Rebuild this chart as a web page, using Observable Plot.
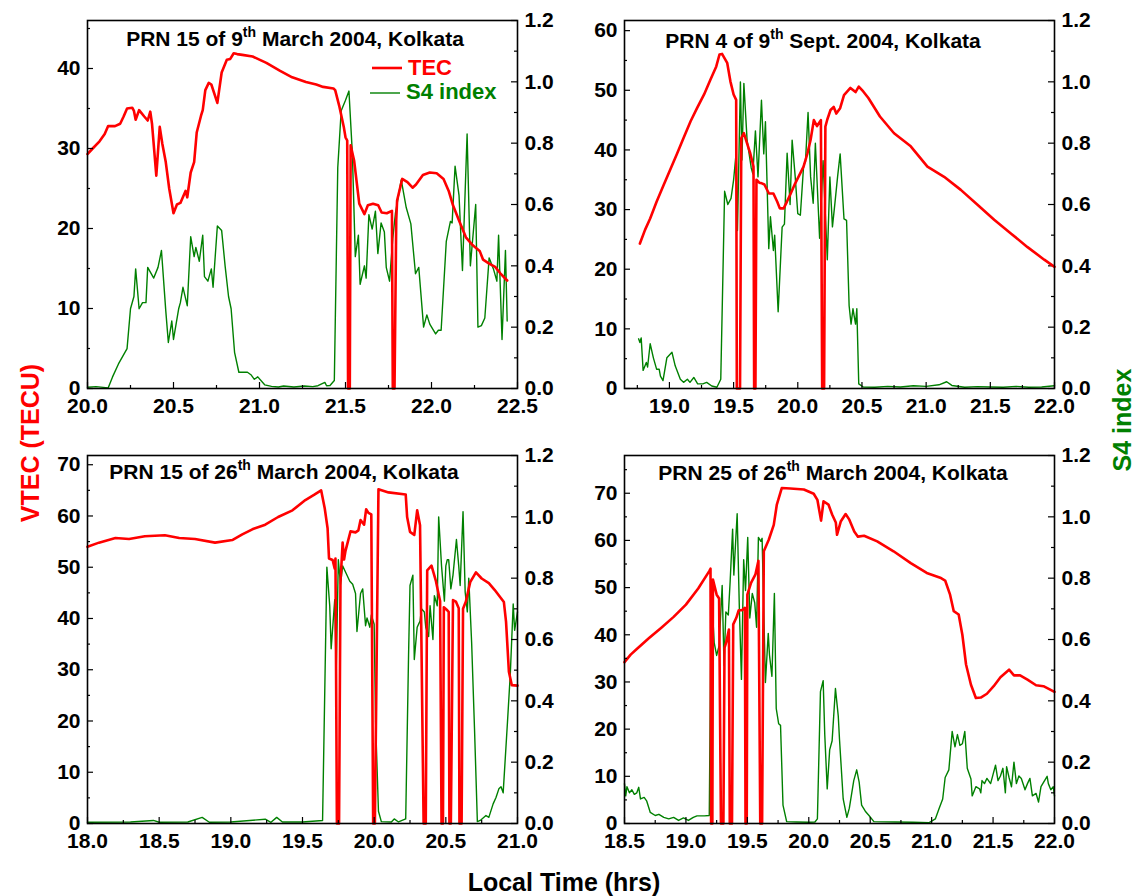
<!DOCTYPE html>
<html><head><meta charset="utf-8">
<script src="https://cdn.jsdelivr.net/npm/d3@7"></script>
<script src="https://cdn.jsdelivr.net/npm/@observablehq/plot@0.6"></script>
<style>
body{margin:0;background:#fff;}
#chart{position:relative;width:1138px;height:896px;overflow:hidden;}
#chart svg{position:absolute;left:0;top:0;background:transparent !important;max-width:none !important;}
</style></head><body><div id="chart"></div>
<script>
// ---------- data: [local time (hrs), value] ----------
const p1Tec = [[20.00,29.3],[20.03,30.0],[20.07,30.9],[20.10,31.8],[20.12,32.8],[20.16,32.8],[20.19,33.1],[20.21,34.0],[20.23,35.0],[20.26,35.1],[20.27,34.7],[20.28,33.6],[20.30,34.8],[20.33,34.0],[20.35,33.5],[20.365,34.6],[20.375,33.1],[20.40,26.6],[20.42,32.7],[20.435,30.6],[20.455,28.3],[20.475,25.0],[20.50,21.9],[20.52,23.0],[20.54,23.2],[20.57,24.7],[20.58,23.9],[20.60,27.0],[20.62,28.3],[20.635,32.0],[20.66,34.1],[20.67,34.8],[20.685,37.3],[20.705,38.2],[20.72,38.0],[20.755,35.7],[20.78,39.5],[20.81,41.1],[20.83,41.2],[20.85,41.9],[20.87,41.8],[20.90,41.7],[20.96,41.5],[21.04,40.7],[21.12,39.7],[21.19,38.9],[21.27,38.3],[21.33,38.0],[21.37,37.7],[21.43,37.5],[21.44,37.3],[21.465,35.2],[21.49,32.7],[21.50,31.4],[21.51,31.0],[21.515,0],[21.525,0],[21.53,30.4],[21.55,28.5],[21.58,23.1],[21.61,21.8],[21.63,22.9],[21.66,23.1],[21.69,22.9],[21.71,22.0],[21.74,21.9],[21.77,22.2],[21.775,0],[21.785,0],[21.795,21.0],[21.80,23.5],[21.83,26.2],[21.86,25.8],[21.89,25.1],[21.91,25.5],[21.95,26.7],[21.99,27.0],[22.03,26.9],[22.07,26.2],[22.10,24.7],[22.125,22.9],[22.16,21.0],[22.20,18.9],[22.24,17.9],[22.28,17.2],[22.30,16.1],[22.335,15.6],[22.37,15.2],[22.40,14.4],[22.44,13.5]];
const p1S4 = [[20.00,0.004],[20.05,0.006],[20.12,0.002],[20.145,0.037],[20.18,0.08],[20.23,0.13],[20.25,0.26],[20.27,0.30],[20.28,0.39],[20.30,0.26],[20.32,0.28],[20.34,0.28],[20.35,0.395],[20.385,0.36],[20.41,0.395],[20.43,0.45],[20.455,0.254],[20.47,0.15],[20.49,0.22],[20.50,0.16],[20.53,0.26],[20.54,0.28],[20.555,0.33],[20.58,0.27],[20.60,0.495],[20.62,0.43],[20.63,0.46],[20.65,0.415],[20.67,0.50],[20.68,0.365],[20.70,0.35],[20.72,0.39],[20.73,0.33],[20.755,0.53],[20.78,0.515],[20.80,0.40],[20.82,0.30],[20.835,0.26],[20.855,0.118],[20.88,0.053],[20.93,0.053],[20.95,0.045],[20.97,0.03],[20.99,0.038],[21.03,0.012],[21.07,0.007],[21.11,0.005],[21.14,0.008],[21.20,0.005],[21.26,0.008],[21.31,0.006],[21.34,0.009],[21.38,0.02],[21.39,0.009],[21.41,0.01],[21.435,0.026],[21.455,0.72],[21.475,0.906],[21.50,0.94],[21.52,0.97],[21.54,0.765],[21.557,0.43],[21.575,0.50],[21.585,0.34],[21.61,0.40],[21.62,0.36],[21.636,0.567],[21.655,0.52],[21.674,0.578],[21.688,0.44],[21.707,0.54],[21.726,0.51],[21.737,0.395],[21.756,0.35],[21.775,0.49],[21.79,0.57],[21.824,0.68],[21.853,0.59],[21.88,0.537],[21.907,0.374],[21.926,0.395],[21.954,0.20],[21.973,0.24],[21.99,0.21],[22.024,0.178],[22.04,0.19],[22.056,0.19],[22.086,0.48],[22.11,0.545],[22.12,0.54],[22.137,0.725],[22.16,0.63],[22.18,0.385],[22.207,0.83],[22.226,0.40],[22.257,0.60],[22.27,0.20],[22.29,0.205],[22.31,0.23],[22.335,0.426],[22.36,0.39],[22.38,0.35],[22.39,0.50],[22.41,0.16],[22.43,0.45],[22.44,0.22]];
const p2Tec = [[18.77,24.3],[18.81,26.6],[18.85,28.5],[18.90,31.3],[18.955,34.1],[19.01,36.9],[19.06,39.4],[19.11,42.0],[19.165,44.8],[19.215,47.0],[19.27,49.3],[19.32,51.8],[19.365,54.0],[19.39,56.0],[19.41,56.1],[19.45,54.6],[19.475,51.5],[19.50,49.3],[19.52,48.4],[19.525,0],[19.55,0],[19.56,42.0],[19.58,42.8],[19.605,41.1],[19.63,39.4],[19.655,37.2],[19.66,0],[19.67,0],[19.678,35.0],[19.70,34.5],[19.72,34.4],[19.74,34.2],[19.775,32.7],[19.81,32.7],[19.84,31.3],[19.86,30.2],[19.89,30.2],[19.915,31.3],[19.945,32.7],[19.98,34.4],[20.02,36.1],[20.045,37.2],[20.075,39.4],[20.10,41.7],[20.125,45.0],[20.15,44.0],[20.18,45.0],[20.19,0],[20.205,0],[20.215,43.9],[20.23,45.1],[20.255,46.7],[20.28,47.2],[20.30,46.1],[20.33,47.0],[20.36,49.2],[20.41,50.4],[20.45,49.7],[20.475,50.6],[20.51,49.8],[20.55,48.7],[20.64,45.6],[20.75,42.8],[20.88,40.6],[21.01,37.2],[21.14,35.5],[21.27,33.3],[21.40,30.8],[21.53,28.3],[21.66,26.0],[21.79,23.7],[21.92,21.6],[22.0,20.4]];
const p2S4 = [[18.76,0.162],[18.77,0.15],[18.78,0.165],[18.795,0.059],[18.82,0.085],[18.83,0.07],[18.85,0.146],[18.875,0.10],[18.90,0.063],[18.92,0.063],[18.93,0.04],[18.95,0.026],[18.98,0.10],[19.02,0.118],[19.045,0.074],[19.085,0.03],[19.11,0.02],[19.14,0.03],[19.16,0.02],[19.19,0.036],[19.22,0.015],[19.26,0.015],[19.29,0.02],[19.33,0.008],[19.37,0.004],[19.40,0.03],[19.43,0.643],[19.455,0.60],[19.48,0.62],[19.50,0.68],[19.52,0.77],[19.53,0.515],[19.553,1.0],[19.565,0.745],[19.58,0.995],[19.605,0.81],[19.637,0.72],[19.65,0.70],[19.67,0.84],[19.69,0.69],[19.717,0.94],[19.735,0.765],[19.748,0.87],[19.774,0.456],[19.787,0.56],[19.81,0.45],[19.82,0.50],[19.847,0.25],[19.878,0.526],[19.896,0.536],[19.917,0.767],[19.94,0.60],[19.956,0.81],[19.98,0.69],[20.0,0.57],[20.02,0.565],[20.046,0.73],[20.06,0.74],[20.08,0.90],[20.10,0.69],[20.12,0.604],[20.137,0.80],[20.17,0.49],[20.197,0.743],[20.23,0.42],[20.25,0.69],[20.27,0.527],[20.29,0.607],[20.31,0.69],[20.33,0.765],[20.36,0.553],[20.38,0.548],[20.40,0.27],[20.415,0.21],[20.43,0.26],[20.45,0.21],[20.46,0.26],[20.475,0.015],[20.51,0.005],[20.6,0.004],[20.7,0.007],[20.8,0.005],[20.9,0.009],[21.0,0.007],[21.1,0.012],[21.16,0.022],[21.2,0.01],[21.3,0.004],[21.4,0.006],[21.5,0.005],[21.6,0.004],[21.7,0.007],[21.8,0.004],[21.9,0.005],[22.0,0.009]];
const p3Tec = [[18.00,54.0],[18.08,54.8],[18.195,55.7],[18.29,55.5],[18.40,56.05],[18.54,56.25],[18.64,55.7],[18.75,55.5],[18.89,54.8],[19.01,55.3],[19.08,56.4],[19.15,57.4],[19.24,58.3],[19.33,59.8],[19.43,61.1],[19.52,63.1],[19.58,64.1],[19.63,65.0],[19.655,61.5],[19.675,57.6],[19.685,51.7],[19.71,51.4],[19.725,49.7],[19.73,51.7],[19.74,0],[19.755,0],[19.765,47.1],[19.78,54.8],[19.79,51.5],[19.80,53.2],[19.835,57.0],[19.87,56.8],[19.89,57.2],[19.905,59.2],[19.93,58.3],[19.944,61.3],[19.96,60.6],[19.98,60.3],[19.993,0],[20.005,0],[20.03,65.2],[20.10,64.6],[20.22,64.2],[20.23,59.8],[20.25,56.9],[20.28,56.3],[20.30,61.1],[20.32,58.2],[20.345,0],[20.36,0],[20.37,49.4],[20.40,50.3],[20.43,47.4],[20.45,44.7],[20.46,43.4],[20.47,0],[20.48,0],[20.486,42.2],[20.51,41.6],[20.52,41.3],[20.525,0],[20.535,0],[20.55,43.6],[20.57,43.3],[20.59,42.0],[20.595,0],[20.61,0],[20.62,41.9],[20.64,43.3],[20.67,47.1],[20.71,49.0],[20.75,47.8],[20.80,46.9],[20.84,45.6],[20.905,43.2],[20.92,39.4],[20.94,29.6],[20.96,27.0],[21.0,26.9]];
const p3S4 = [[18.0,0.004],[18.3,0.005],[18.46,0.01],[18.5,0.004],[18.7,0.005],[18.8,0.02],[18.85,0.004],[19.0,0.005],[19.24,0.014],[19.28,0.004],[19.32,0.02],[19.36,0.005],[19.5,0.005],[19.64,0.01],[19.67,0.836],[19.69,0.71],[19.70,0.57],[19.725,0.73],[19.735,0.49],[19.75,0.86],[19.765,0.78],[19.78,0.84],[19.80,0.82],[19.83,0.79],[19.85,0.78],[19.87,0.75],[19.88,0.626],[19.905,0.75],[19.92,0.765],[19.94,0.645],[19.95,0.67],[19.97,0.64],[19.98,0.68],[20.0,0.65],[20.01,0.33],[20.03,0.04],[20.05,0.006],[20.12,0.005],[20.14,0.015],[20.17,0.005],[20.22,0.015],[20.24,0.55],[20.25,0.776],[20.27,0.81],[20.28,0.535],[20.30,0.64],[20.32,0.66],[20.33,0.70],[20.35,0.69],[20.36,0.64],[20.38,0.61],[20.39,0.71],[20.41,0.60],[20.42,0.743],[20.44,0.71],[20.45,1.0],[20.47,0.84],[20.49,0.725],[20.50,0.84],[20.51,0.86],[20.52,0.86],[20.535,0.765],[20.55,0.81],[20.574,0.926],[20.59,0.84],[20.60,0.776],[20.62,1.017],[20.635,0.754],[20.65,0.69],[20.66,0.80],[20.68,0.59],[20.70,0.31],[20.72,0.006],[20.74,0.01],[20.78,0.026],[20.80,0.02],[20.83,0.064],[20.85,0.085],[20.87,0.113],[20.885,0.12],[20.90,0.10],[20.93,0.33],[20.95,0.49],[20.97,0.716],[20.98,0.63],[21.0,0.69]];
const p4Tec = [[18.50,34.2],[18.55,35.8],[18.60,37.0],[18.70,39.3],[18.80,41.5],[18.90,43.8],[19.00,46.4],[19.10,49.8],[19.19,53.5],[19.20,54.0],[19.205,0],[19.215,0],[19.22,51.7],[19.25,48.5],[19.27,47.7],[19.285,0],[19.305,0],[19.314,37.2],[19.33,38.6],[19.35,41.1],[19.357,0],[19.375,0],[19.385,42.2],[19.41,43.6],[19.43,45.2],[19.455,45.2],[19.48,45.7],[19.485,0],[19.495,0],[19.50,48.5],[19.53,51.0],[19.566,52.8],[19.59,55.7],[19.605,0],[19.62,0],[19.634,57.7],[19.675,60.2],[19.715,63.3],[19.74,67.6],[19.78,71.1],[19.85,71.0],[19.96,70.8],[20.04,69.9],[20.07,68.6],[20.10,64.2],[20.12,68.3],[20.16,67.6],[20.19,65.5],[20.22,63.8],[20.23,61.2],[20.26,64.0],[20.30,65.6],[20.33,64.4],[20.37,61.9],[20.40,60.8],[20.45,61.0],[20.557,59.8],[20.69,57.7],[20.83,55.2],[20.96,53.1],[21.07,52.1],[21.11,51.5],[21.15,48.5],[21.18,45.0],[21.22,44.3],[21.25,40.0],[21.28,33.7],[21.32,29.4],[21.36,26.6],[21.40,26.7],[21.45,27.5],[21.505,29.1],[21.56,31.0],[21.63,32.6],[21.67,31.4],[21.72,31.4],[21.78,30.5],[21.85,29.3],[21.91,29.1],[22.0,27.9]];
const p4S4 = [[18.50,0.13],[18.51,0.09],[18.52,0.12],[18.54,0.10],[18.56,0.11],[18.58,0.095],[18.60,0.10],[18.616,0.118],[18.63,0.08],[18.66,0.085],[18.68,0.074],[18.71,0.036],[18.75,0.026],[18.78,0.03],[18.82,0.02],[18.86,0.015],[18.90,0.02],[18.94,0.01],[18.98,0.018],[19.02,0.01],[19.06,0.02],[19.09,0.025],[19.15,0.025],[19.19,0.026],[19.206,0.77],[19.23,0.59],[19.25,0.548],[19.27,0.58],[19.295,0.776],[19.31,0.515],[19.325,0.69],[19.345,0.68],[19.36,0.79],[19.38,0.96],[19.39,0.81],[19.417,1.01],[19.435,0.70],[19.452,0.47],[19.47,0.86],[19.485,0.76],[19.503,0.933],[19.52,0.67],[19.54,0.75],[19.56,0.72],[19.575,0.64],[19.59,0.933],[19.61,0.92],[19.62,0.93],[19.647,0.46],[19.67,0.62],[19.68,0.55],[19.70,0.48],[19.72,0.75],[19.735,0.375],[19.755,0.325],[19.77,0.32],[19.79,0.06],[19.82,0.006],[19.9,0.005],[20.0,0.004],[20.05,0.005],[20.07,0.015],[20.095,0.43],[20.117,0.466],[20.13,0.29],[20.15,0.113],[20.17,0.24],[20.19,0.27],[20.217,0.44],[20.24,0.35],[20.25,0.275],[20.28,0.08],[20.31,0.02],[20.33,0.05],[20.366,0.14],[20.39,0.175],[20.41,0.135],[20.43,0.06],[20.46,0.04],[20.49,0.026],[20.53,0.006],[20.7,0.005],[20.85,0.004],[20.98,0.003],[21.03,0.015],[21.06,0.048],[21.09,0.08],[21.11,0.15],[21.14,0.175],[21.167,0.30],[21.19,0.25],[21.21,0.29],[21.23,0.255],[21.25,0.26],[21.27,0.30],[21.29,0.18],[21.32,0.145],[21.33,0.09],[21.36,0.12],[21.39,0.113],[21.40,0.10],[21.41,0.14],[21.43,0.13],[21.45,0.147],[21.48,0.13],[21.50,0.16],[21.52,0.19],[21.54,0.14],[21.56,0.155],[21.58,0.18],[21.60,0.10],[21.61,0.185],[21.63,0.15],[21.65,0.12],[21.67,0.20],[21.69,0.13],[21.71,0.155],[21.73,0.147],[21.76,0.11],[21.78,0.13],[21.80,0.147],[21.82,0.09],[21.85,0.098],[21.87,0.07],[21.89,0.12],[21.94,0.154],[21.95,0.13],[21.97,0.11],[21.99,0.12],[22.0,0.09]];

// ---------- ticks ----------
const p1XTicks = [20.0,20.5,21.0,21.5,22.0,22.5];
const p1XMinor = [20.25,20.75,21.25,21.75,22.25];
const p2XTicks = [19.0,19.5,20.0,20.5,21.0,21.5,22.0];
const p2XMinor = [18.75,19.25,19.75,20.25,20.75,21.25,21.75];
const p3XTicks = [18.0,18.5,19.0,19.5,20.0,20.5,21.0];
const p3XMinor = [18.25,18.75,19.25,19.75,20.25,20.75];
const p4XTicks = [18.5,19.0,19.5,20.0,20.5,21.0,21.5,22.0];
const p4XMinor = [18.75,19.25,19.75,20.25,20.75,21.25,21.75];
const p1YTicks = [0,10,20,30,40], p1YMinor = [5,15,25,35,45];
const p2YTicks = [0,10,20,30,40,50,60], p2YMinor = [5,15,25,35,45,55];
const p3YTicks = [0,10,20,30,40,50,60,70], p3YMinor = [5,15,25,35,45,55,65];
const p4YTicks = [0,10,20,30,40,50,60,70], p4YMinor = [5,15,25,35,45,55,65,75];
const s4Ticks = [0,0.2,0.4,0.6,0.8,1.0,1.2];
const s4Minor = [0.1,0.3,0.5,0.7,0.9,1.1];

const titles = [
  ["PRN 15 of 9","th"," March 2004, Kolkata"],
  ["PRN 4 of 9","th"," Sept. 2004, Kolkata"],
  ["PRN 15 of 26","th"," March 2004, Kolkata"],
  ["PRN 25 of 26","th"," March 2004, Kolkata"]
];
const legendLabels = ["TEC","S4 index"];
const axisTitles = {x:"Local Time (hrs)", yLeft:"VTEC (TECU)", yRight:"S4 index"};

// ---------- layout ----------
const W = 1138, H = 896, PW = 430, PH = 368;
const RED = "#ff0000", GREEN = "#008000";
const FONT = "'Liberation Sans', Arial, Helvetica, sans-serif";
const panels = [
  {left:87,  top:20,  x:[20,22.5],    yMax:46,   tec:p1Tec, s4:p1S4, xt:p1XTicks, xm:p1XMinor, yt:p1YTicks, ym:p1YMinor, tx:295, ty:46},
  {left:624, top:20,  x:[18.65,22.0], yMax:61.7, tec:p2Tec, s4:p2S4, xt:p2XTicks, xm:p2XMinor, yt:p2YTicks, ym:p2YMinor, tx:823, ty:48},
  {left:87,  top:455, x:[18,21],      yMax:71.8, tec:p3Tec, s4:p3S4, xt:p3XTicks, xm:p3XMinor, yt:p3YTicks, ym:p3YMinor, tx:284, ty:479},
  {left:624, top:455, x:[18.5,22.0],  yMax:78,   tec:p4Tec, s4:p4S4, xt:p4XTicks, xm:p4XMinor, yt:p4YTicks, ym:p4YMinor, tx:833, ty:480}
];

const chart = document.getElementById("chart");
const baseStyle = {fontFamily: FONT, fontSize: "21px", fontWeight: "bold", color: "black", background: "transparent", overflow: "visible"};

function geom(p) {
  return {width: W, height: H, marginLeft: p.left, marginRight: W - p.left - PW, marginTop: p.top, marginBottom: H - p.top - PH};
}

for (const p of panels) {
  const s4Plot = Plot.plot({
    ...geom(p), style: baseStyle,
    x: {domain: p.x, axis: null},
    y: {domain: [0, 1.2], axis: null},
    marks: [
      Plot.line(p.s4, {x: d => d[0], y: d => d[1], stroke: GREEN, strokeWidth: 1.4}),
      Plot.axisY(s4Ticks, {anchor: "right", tickSize: 0, tickPadding: 7, tickFormat: d => d.toFixed(1)}),
      Plot.tickY(s4Ticks, {y: d => d, insetLeft: PW - 6, strokeWidth: 1.2}),
      Plot.tickY(s4Minor, {y: d => d, insetLeft: PW - 3, strokeWidth: 1.2})
    ]
  });
  const tecPlot = Plot.plot({
    ...geom(p), style: baseStyle,
    x: {domain: p.x, axis: null},
    y: {domain: [0, p.yMax], axis: null},
    marks: [
      Plot.line(p.tec, {x: d => d[0], y: d => d[1], stroke: RED, strokeWidth: 2.6}),
      Plot.frame({stroke: "black", strokeWidth: 1.6}),
      Plot.axisY(p.yt, {anchor: "left", tickSize: 0, tickPadding: 7}),
      Plot.tickY(p.yt, {y: d => d, insetRight: PW - 6, strokeWidth: 1.2}),
      Plot.tickY(p.ym, {y: d => d, insetRight: PW - 3, strokeWidth: 1.2}),
      Plot.axisX(p.xt, {anchor: "bottom", tickSize: 0, tickPadding: 10, tickFormat: d => d.toFixed(1)}),
      Plot.tickX(p.xt, {x: d => d, insetTop: PH - 6, strokeWidth: 1.2}),
      Plot.tickX(p.xm, {x: d => d, insetTop: PH - 3, strokeWidth: 1.2})
    ]
  });
  chart.appendChild(s4Plot);
  chart.appendChild(tecPlot);
}

// ---------- overlay text: titles, legend, axis titles ----------
const svg = d3.select(chart).append("svg")
  .attr("width", W).attr("height", H)
  .style("font-family", FONT).style("font-weight", "bold");

panels.forEach((p, i) => {
  const t = svg.append("text").attr("x", p.tx).attr("y", p.ty)
    .attr("text-anchor", "middle").attr("font-size", 21).attr("fill", "black");
  t.append("tspan").text(titles[i][0]);
  t.append("tspan").attr("dy", -9).attr("font-size", 14).text(titles[i][1]);
  t.append("tspan").attr("dy", 9).text(titles[i][2]);
});

// legend (panel 1)
svg.append("line").attr("x1", 372).attr("x2", 402).attr("y1", 68).attr("y2", 68).attr("stroke", RED).attr("stroke-width", 2.6);
svg.append("text").attr("x", 408).attr("y", 75).attr("font-size", 22).attr("fill", RED).text(legendLabels[0]);
svg.append("line").attr("x1", 370).attr("x2", 400).attr("y1", 93).attr("y2", 93).attr("stroke", GREEN).attr("stroke-width", 1.4);
svg.append("text").attr("x", 406).attr("y", 99).attr("font-size", 22).attr("fill", GREEN).text(legendLabels[1]);

// axis titles
svg.append("text").attr("x", 564).attr("y", 891).attr("text-anchor", "middle").attr("font-size", 25).attr("fill", "black").text(axisTitles.x);
svg.append("text").attr("transform", "translate(39,443) rotate(-90)").attr("text-anchor", "middle").attr("font-size", 25).attr("fill", RED).text(axisTitles.yLeft);
svg.append("text").attr("transform", "translate(1131,420) rotate(-90)").attr("text-anchor", "middle").attr("font-size", 25).attr("fill", GREEN).text(axisTitles.yRight);
</script></body></html>
